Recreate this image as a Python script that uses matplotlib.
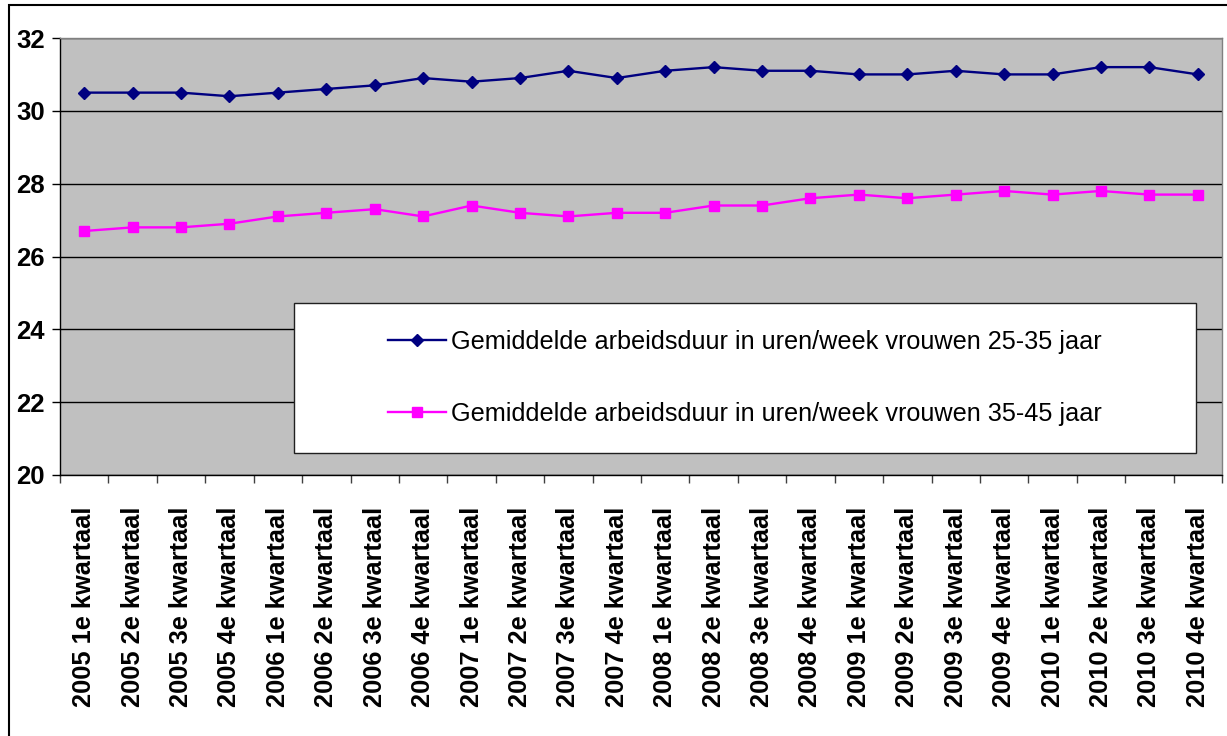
import matplotlib
matplotlib.use("Agg")
import matplotlib.pyplot as plt
from matplotlib.patches import Rectangle
import numpy as np

quarters = [
    "2005 1e kwartaal", "2005 2e kwartaal", "2005 3e kwartaal", "2005 4e kwartaal",
    "2006 1e kwartaal", "2006 2e kwartaal", "2006 3e kwartaal", "2006 4e kwartaal",
    "2007 1e kwartaal", "2007 2e kwartaal", "2007 3e kwartaal", "2007 4e kwartaal",
    "2008 1e kwartaal", "2008 2e kwartaal", "2008 3e kwartaal", "2008 4e kwartaal",
    "2009 1e kwartaal", "2009 2e kwartaal", "2009 3e kwartaal", "2009 4e kwartaal",
    "2010 1e kwartaal", "2010 2e kwartaal", "2010 3e kwartaal", "2010 4e kwartaal",
]

# gemiddelde arbeidsduur (uren/week)
women_25_35 = [30.5, 30.5, 30.5, 30.4, 30.5, 30.6, 30.7, 30.9, 30.8, 30.9, 31.1, 30.9,
               31.1, 31.2, 31.1, 31.1, 31.0, 31.0, 31.1, 31.0, 31.0, 31.2, 31.2, 31.0]
women_35_45 = [26.7, 26.8, 26.8, 26.9, 27.1, 27.2, 27.3, 27.1, 27.4, 27.2, 27.1, 27.2,
               27.2, 27.4, 27.4, 27.6, 27.7, 27.6, 27.7, 27.8, 27.7, 27.8, 27.7, 27.7]

label_25_35 = "Gemiddelde arbeidsduur in uren/week vrouwen 25-35 jaar"
label_35_45 = "Gemiddelde arbeidsduur in uren/week vrouwen 35-45 jaar"
y_ticks = [20, 22, 24, 26, 28, 30, 32]

plt.rcParams['font.family'] = ['Liberation Sans', 'DejaVu Sans']

fig = plt.figure(figsize=(12.27, 7.36), dpi=100)
ax = fig.add_axes([60 / 1227, 261 / 736, 1162 / 1227, 437 / 736])
ax.set_facecolor('#c0c0c0')

x = np.arange(len(quarters))
ax.plot(x, women_25_35, color='#000080', lw=1.7, marker='D', ms=6.6, label=label_25_35, zorder=3)
ax.plot(x, women_35_45, color='#ff00ff', lw=1.7, marker='s', ms=7.6, label=label_35_45, zorder=3)

ax.set_xlim(-0.5, len(quarters) - 0.5)
ax.set_ylim(y_ticks[0], y_ticks[-1])
ax.set_yticks(y_ticks)
ax.yaxis.grid(True, color='black', lw=1)
ax.set_axisbelow(True)
for lbl in ax.get_yticklabels():
    lbl.set_fontweight('bold')
ax.tick_params(axis='y', length=6, width=1, pad=5, labelsize=18.5)

# category labels centred, ticks on the category edges
ax.set_xticks(x)
ax.set_xticklabels(quarters, rotation=90, fontsize=18.3, fontweight='bold')
ax.set_xticks(np.arange(len(quarters) + 1) - 0.5, minor=True)
ax.tick_params(axis='x', which='major', length=0, pad=23)
ax.tick_params(axis='x', which='minor', length=6, width=1, color='#404040')

for side in ['left', 'bottom']:
    ax.spines[side].set_color('black')
    ax.spines[side].set_linewidth(1)
for side in ['top', 'right']:
    ax.spines[side].set_color('#808080')
    ax.spines[side].set_linewidth(1)

# legend box
ax.add_patch(Rectangle((0.2014, 0.0503), 0.7762, 0.3432, transform=ax.transAxes,
                       facecolor='white', edgecolor='#202020', lw=1, zorder=4))
leg = ax.legend(loc='center', bbox_to_anchor=(0.5895, 0.222), frameon=False, fontsize=18.2,
                handlelength=2.3, handletextpad=0.2, labelspacing=1.9,
                borderaxespad=0, borderpad=0)
leg.set_zorder(5)

# outer chart border (cut off at the right and bottom)
fig.add_artist(Rectangle((9 / 1227, -0.1), 1.2, 1.1 - 5 / 736, transform=fig.transFigure,
                         fill=False, edgecolor='black', lw=1.5, clip_on=False))

fig.savefig("out.png", dpi=100)
